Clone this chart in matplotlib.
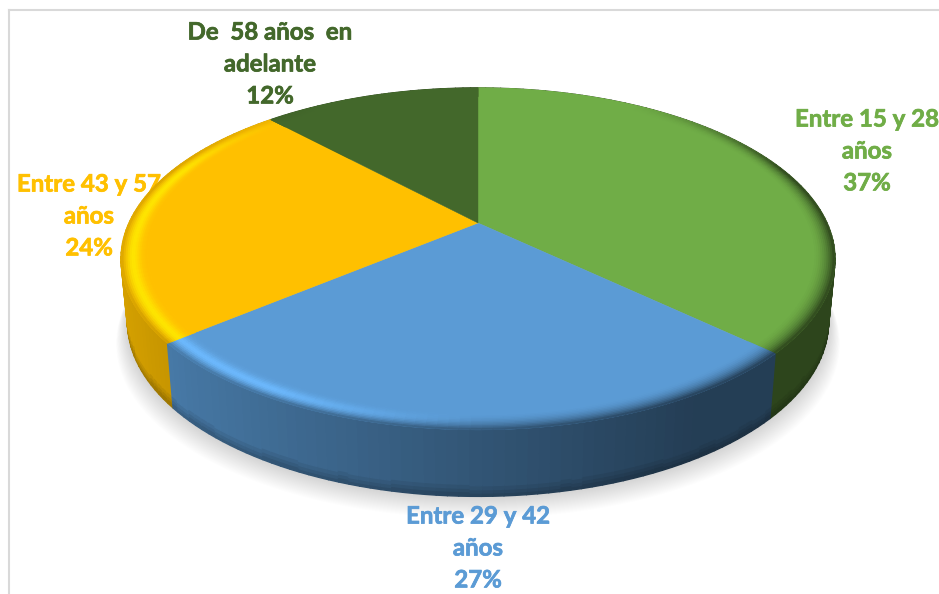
import numpy as np
import matplotlib
matplotlib.use("Agg")
import matplotlib.pyplot as plt
import matplotlib.patheffects as pe
from matplotlib.colors import to_rgb
from matplotlib.collections import PolyCollection

# Datos
categorias = ["Entre 15 y 28\naños", "Entre 29 y 42\naños", "Entre 43 y 57\naños", "De  58 años  en\nadelante"]
valores = [37, 27, 24, 12]
colores = ["#70AD47", "#5B9BD5", "#FFC000", "#43682B"]
pos_etiquetas = [(867, 151), (478, 548), (89, 216), (270, 64)]

# perspectiva del disco (pixeles)
CX, CY = 478, 223
A, B, K, D = 349, 163.4, 0.21, 62


def proyecta(ang, r=1.0, z=0.0):
    u = r * np.sin(ang)
    v = r * np.cos(ang)
    w = 1 + K * v
    x = CX + A * u * (1 - 0.018 * z) / w
    y = CY - B * v / w + D * z / w ** 0.3
    return np.column_stack([x, y])


def sombra_lateral(ang):
    return np.clip(0.55 - 0.3 * np.sin(ang), 0.4, 0.9)


fig = plt.figure(figsize=(9.39, 5.94), dpi=100)
ax = fig.add_axes([0, 0, 1, 1])
ax.set_xlim(0, 939)
ax.set_ylim(594, 0)
ax.axis("off")

# marco
ax.plot([9, 9], [600, 10], color="#D9D9D9", lw=1.5, zorder=0)
ax.plot([9, 945], [10, 10], color="#D9D9D9", lw=1.5, zorder=0)

# sombra
circ = np.linspace(0, 2 * np.pi, 200)
borde = proyecta(circ, 1, 1)
for e in np.linspace(26, 1, 22):
    p = borde.copy()
    p[:, 0] = CX + (p[:, 0] - CX) * (1 + e / 800)
    p[:, 1] = p[:, 1] + e * 0.85
    ax.fill(p[:, 0], p[:, 1], color="black", alpha=0.0075, lw=0, zorder=1)

# etiquetas, debajo del pastel
for cat, val, col, (tx, ty) in zip(categorias, valores, colores, pos_etiquetas):
    ax.text(tx, ty, f"{cat}\n{val}%", color=col, ha="center", va="center",
            family="Lato", weight="bold", fontsize=17.3, linespacing=1.47, zorder=2,
            path_effects=[pe.withStroke(linewidth=0.5, foreground=col)])

fracs = np.array(valores) / sum(valores)
lims = np.concatenate([[0], np.cumsum(fracs)]) * 2 * np.pi
# radios del bisel
radios = np.linspace(0.92, 1.0, 16)

# pared lateral
caras, tonos, orden = [], [], []
for i, col in enumerate(colores):
    base = np.array(to_rgb(col))
    angs = np.linspace(lims[i], lims[i + 1], int(fracs[i] * 240) + 2)
    zs = [0, 0.84, 0.9, 0.95, 1.0]
    for a0, a1 in zip(angs[:-1], angs[1:]):
        am = (a0 + a1) / 2
        for j, (z0, z1) in enumerate(zip(zs[:-1], zs[1:])):
            q = np.vstack([proyecta(np.array([a0, a1]), 1, z0), proyecta(np.array([a1, a0]), 1, z1)])
            caras.append(q)
            tonos.append(base * sombra_lateral(am) * (1 - 0.07 * j))
            orden.append(-np.cos(am))
idx = np.argsort(orden)
ax.add_collection(PolyCollection([caras[k] for k in idx], facecolors=[tonos[k] for k in idx],
                                 edgecolors=[tonos[k] for k in idx], linewidths=1.0, zorder=3))

# cara superior
for i, col in enumerate(colores):
    angs = np.linspace(lims[i], lims[i + 1], 100)
    p = np.vstack([[CX, CY], proyecta(angs)])
    ax.fill(p[:, 0], p[:, 1], color=col, lw=0.3, zorder=4)

# bisel del borde
caras, tonos = [], []
for i, col in enumerate(colores):
    base = np.array(to_rgb(col))
    alto = np.clip(base * 1.2, 0, 1)
    angs = np.linspace(lims[i], lims[i + 1], int(fracs[i] * 240) + 2)
    for a0, a1 in zip(angs[:-1], angs[1:]):
        am = (a0 + a1) / 2
        u, v = np.sin(am), np.cos(am)
        fuerza = np.clip((0.85 - v) / 0.5, 0, 1)
        luz = np.clip(-u / 0.5, 0, 1) * np.clip((0.75 - v) / 0.4, 0, 1)
        lado = base * sombra_lateral(am)
        for r0, r1 in zip(radios[:-1], radios[1:]):
            t = ((r0 + r1) / 2 - radios[0]) / (radios[-1] - radios[0])
            c = base + luz * np.exp(-((t - 0.62) / 0.25) ** 2) * (alto - base)
            mezcla = fuerza * np.clip((t - 0.25) / 0.75, 0, 1) ** (2 + 3 * luz)
            c = c + mezcla * (lado - c)
            q = np.vstack([proyecta(np.array([a0, a1]), r0), proyecta(np.array([a1, a0]), r1)])
            caras.append(q)
            tonos.append(c)
ax.add_collection(PolyCollection(caras, facecolors=tonos, edgecolors=tonos, linewidths=0.6, zorder=5))

fig.savefig("out.png", dpi=100, facecolor="white")
